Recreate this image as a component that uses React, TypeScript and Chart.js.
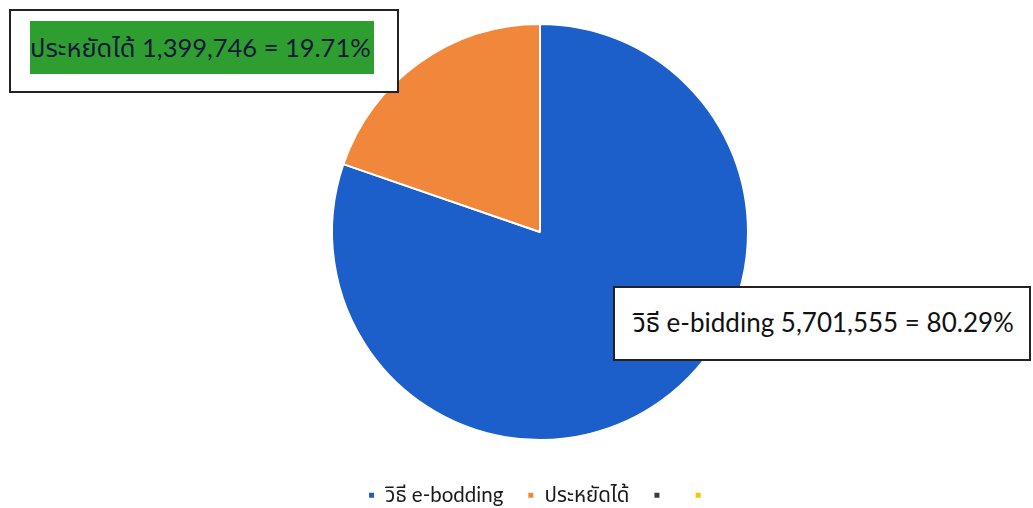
import React, { useEffect, useRef } from "react";
import { Chart, registerables } from "chart.js";

Chart.register(...registerables);

// ---- data ----
const legendLabels = ["วิธี e-bodding", "ประหยัดได้", "", ""];
const sliceValues = [5701555, 1399746, 0, 0];
const sliceColors = ["#1C5FCB", "#F0873A", "#3a3a3a", "#FFC000"];
const annotationNames = ["วิธี e-bidding", "ประหยัดได้"];

const total = sliceValues.reduce((a, b) => a + b, 0);
const fmt = (v: number) => v.toLocaleString("en-US");
const pct = (v: number) => ((v / total) * 100).toFixed(2) + "%";
const labelText = (i: number) =>
  `${annotationNames[i]} ${fmt(sliceValues[i])} = ${pct(sliceValues[i])}`;

const FONT = "Lato, 'Noto Sans', 'Noto Sans Thai', 'Open Sans', sans-serif";

export default function App() {
  const ref = useRef<HTMLCanvasElement | null>(null);

  useEffect(() => {
    if (!ref.current) return;
    const chart = new Chart(ref.current, {
      type: "pie",
      data: {
        labels: legendLabels,
        datasets: [
          {
            data: sliceValues,
            backgroundColor: sliceColors,
            borderColor: "#ffffff",
            borderWidth: 2,
          },
        ],
      },
      options: {
        responsive: false,
        animation: false,
        layout: { padding: { top: 23, left: 47, right: 0, bottom: 0 } },
        plugins: {
          tooltip: { enabled: false },
          legend: {
            position: "bottom",
            maxHeight: 67,
            title: {
              display: true,
              text: " ",
              color: "rgba(0,0,0,0)",
              font: { size: 1, lineHeight: 1 },
              padding: { top: 19, bottom: 0 },
            },
            labels: {
              boxWidth: 7,
              boxHeight: 7,
              padding: 24,
              color: "#1a1a1a",
              font: { family: FONT, size: 20.5 },
            },
          },
        },
      },
    });
    return () => chart.destroy();
  }, []);

  return (
    <div
      style={{
        position: "absolute",
        left: 0,
        top: 0,
        width: 1033,
        height: 508,
        background: "#ffffff",
        overflow: "hidden",
      }}
    >
      <canvas ref={ref} width={1033} height={508} style={{ width: 1033, height: 508, display: "block" }} />
      <div
        style={{
          position: "absolute",
          left: 9,
          top: 9,
          width: 390,
          height: 84,
          border: "2px solid #222",
          background: "#fff",
          boxSizing: "border-box",
        }}
      >
        <div
          style={{
            position: "absolute",
            left: 19,
            top: 10,
            width: 344,
            height: 53,
            background: "#2F9E30",
            color: "#14183a",
            fontFamily: FONT,
            fontSize: 25.5,
            lineHeight: "53px",
            whiteSpace: "nowrap",
            overflow: "hidden",
          }}
        >
          {labelText(1)}
        </div>
      </div>
      <div
        style={{
          position: "absolute",
          left: 613,
          top: 286,
          width: 418,
          height: 75,
          border: "2px solid #222",
          background: "#fff",
          boxSizing: "border-box",
          color: "#111",
          fontFamily: FONT,
          fontSize: 26,
          lineHeight: "69px",
          paddingLeft: 18,
          whiteSpace: "nowrap",
        }}
      >
        {labelText(0)}
      </div>
    </div>
  );
}
